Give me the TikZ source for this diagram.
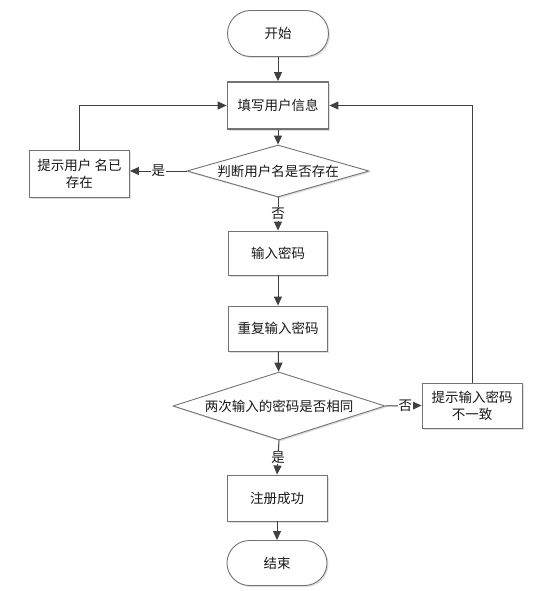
\documentclass[tikz,border=0pt]{standalone}
\usepackage{fontspec}
\setmainfont{Noto Sans CJK SC}
\usetikzlibrary{arrows.meta,shapes.geometric,shadows}
\begin{document}
\begin{tikzpicture}[x=1pt,y=-1pt,
  every node/.style={font=\fontsize{13.5}{17}\selectfont, text=black!90},
  boxsh/.style={fill=white, drop shadow={opacity=0.25, shadow xshift=1.5pt, shadow yshift=-1.5pt}},
  procbox/.style={boxsh, draw=black!55, line width=0.9pt, minimum width=100pt, minimum height=45pt, inner sep=2pt, align=center},
  termbox/.style={boxsh, draw=black!55, line width=0.9pt, minimum width=101pt, minimum height=46pt, rounded corners=23pt},
  decbox/.style={boxsh, draw=black!55, line width=0.9pt, diamond, inner sep=0pt},
  arr/.style={draw=black!75, line width=1pt, -{Triangle[length=9pt,width=8pt]}},
  lbl/.style={fill=white, inner sep=1pt}]
\useasboundingbox (0,0) rectangle (544,591);

\node[termbox] (start) at (278,33.5) {开始};
\node[procbox, line width=1.8pt, minimum width=101pt, minimum height=47pt] (fill) at (278,105.5) {填写用户信息};
\node[decbox, minimum width=182pt, minimum height=52pt, aspect=3.5] (check) at (278,171) {判断用户名是否存在};
\node[procbox, minimum width=100pt, minimum height=47pt, inner sep=1pt] (exists) at (79.5,173.5) {提示用户 名已\\存在};
\node[procbox, minimum width=99pt, minimum height=44pt] (pwd) at (278,253) {输入密码};
\node[procbox, minimum width=99pt, minimum height=45pt] (repeat) at (278,328.5) {重复输入密码};
\node[decbox, minimum width=212pt, minimum height=68pt, aspect=3.1] (same) at (279,406) {两次输入的密码是否相同};
\node[procbox, minimum width=100pt, minimum height=45pt, inner sep=1pt] (mismatch) at (472,405.5) {提示输入密码\\不一致};
\node[procbox, minimum width=100pt, minimum height=46pt] (ok) at (277,498) {注册成功};
\node[termbox, minimum width=100pt, minimum height=45pt, rounded corners=22.5pt] (end) at (277,563) {结束};

\draw[arr] (start) -- (fill);
\draw[arr] (fill) -- (check);
\draw[arr] (check.west) -- node[lbl]{是} (check.west -| exists.east);
\draw[arr] (exists.north) |- (fill.west);
\draw[arr] (check.south) -- node[lbl]{否} (pwd.north);
\draw[arr] (pwd) -- (repeat);
\draw[arr] (repeat) -- (same);
\draw[arr] (same.east) -- node[lbl, pos=0.55]{否} (mismatch.west);
\draw[arr] (mismatch.north) |- (fill.east);
\draw[arr] (same.south) -- node[lbl]{是} (ok.north);
\draw[arr] (ok) -- (end);
\end{tikzpicture}
\end{document}
